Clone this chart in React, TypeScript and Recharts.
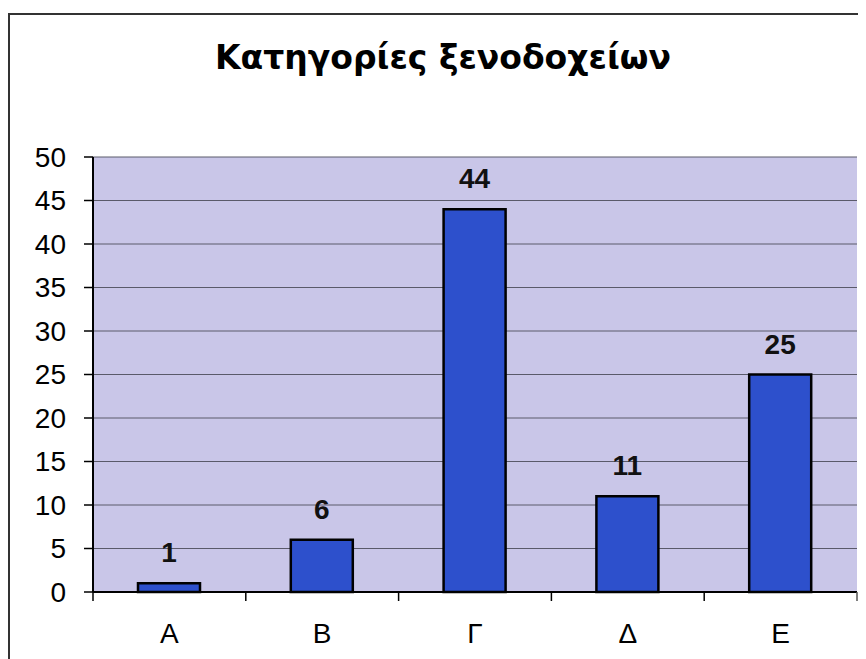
import React from "react";
import { BarChart, Bar, XAxis, YAxis, CartesianGrid, LabelList } from "recharts";

const categories = ["Α", "Β", "Γ", "Δ", "Ε"];
const values = [1, 6, 44, 11, 25];
const yTicks = [0, 5, 10, 15, 20, 25, 30, 35, 40, 45, 50];
const title = "Κατηγορίες ξενοδοχείων";

const data = categories.map((c, i) => ({ name: c, value: values[i] }));

const FONT = "'Liberation Sans', Arial, sans-serif";

const CatTick = (props: any) => {
  const { x, y, payload, width, visibleTicksCount, index } = props;
  const band = width / visibleTicksCount;
  const left = x - band / 2;
  return (
    <g>
      <line x1={left} x2={left} y1={y - 8} y2={y + 1} stroke="#000" strokeWidth={1.5} />
      {index === visibleTicksCount - 1 && (
        <line x1={left + band} x2={left + band} y1={y - 8} y2={y + 1} stroke="#555" strokeWidth={1.5} />
      )}
      <text x={x} y={y + 43} textAnchor="middle" fontSize={28} fontFamily={FONT} fill="#000">
        {payload.value}
      </text>
    </g>
  );
};

export default function App() {
  return (
    <div style={{ position: "relative", width: 858, height: 651, overflow: "hidden" }}>
      <div
        style={{
          position: "absolute",
          left: 0,
          top: 5,
          width: 900,
          height: 700,
          borderTop: "2px solid #333",
          borderLeft: "2px solid #333",
        }}
      />
      <div
        style={{
          position: "absolute",
          left: 6,
          top: 30,
          width: 858,
          textAlign: "center",
          fontFamily: "'DejaVu Sans', sans-serif",
          fontWeight: "bold",
          fontSize: 33,
          color: "#000",
        }}
      >
        {title}
      </div>
      <div style={{ position: "absolute", left: 0, top: 0 }}>
        <BarChart
          width={858}
          height={651}
          data={data}
          margin={{ top: 149, right: 9, left: 0, bottom: 7 }}
          barCategoryGap="20%"
        >
          <CartesianGrid
            vertical={false}
            fill="#C9C6E8"
            stroke="#5a5a6a"
            strokeWidth={1}
          />
          <XAxis
            dataKey="name"
            height={60}
            axisLine={{ stroke: "#000", strokeWidth: 2 }}
            tickLine={false}
            tick={<CatTick />}
            interval={0}
          />
          <YAxis
            width={85}
            domain={[0, 50]}
            ticks={yTicks}
            interval={0}
            axisLine={{ stroke: "#000", strokeWidth: 2 }}
            tickLine={{ stroke: "#000", strokeWidth: 1.5 }}
            tickSize={9}
            tickMargin={18}
            tick={{ fontSize: 28, fontFamily: FONT, fill: "#000" }}
          />
          <Bar
            dataKey="value"
            fill="#2D50CC"
            stroke="#000"
            strokeWidth={2.5}
            barSize={62}
            isAnimationActive={false}
          >
            <LabelList
              dataKey="value"
              position="top"
              offset={21}
              style={{ fontSize: 28, fontWeight: "bold", fontFamily: FONT, fill: "#111" }}
            />
          </Bar>
        </BarChart>
      </div>
    </div>
  );
}
